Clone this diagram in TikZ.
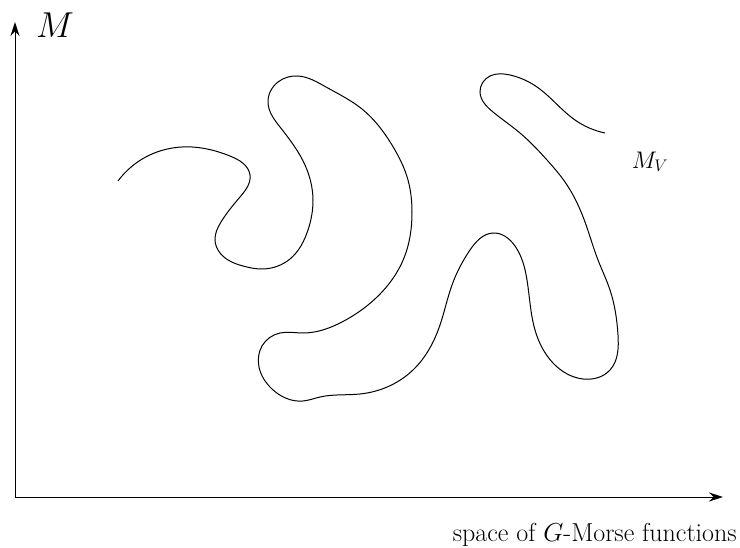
\documentclass[tikz,border=0pt]{standalone}
\usepackage{fix-cm}
\usetikzlibrary{arrows.meta,hobby}
\begin{document}
\begin{tikzpicture}[x=1pt,y=-1pt,
  axis/.style={line width=1pt,-{Stealth[length=14pt,width=9pt]}},
  curve/.style={line width=1pt}]
\useasboundingbox (0,0) rectangle (740,548);
\coordinate (O) at (15,497);
\coordinate (Y) at (15,22);
\coordinate (X) at (723,497);
\draw[axis] (O) -- (Y);
\draw[axis] (O) -- (X);
\node[anchor=west,inner sep=0pt,font=\fontsize{36}{42}\selectfont] (lM) at (36,25) {$M$};
\node[anchor=east,inner sep=0pt,font=\fontsize{26}{30}\selectfont] (lX) at (737,535) {space of $G$-Morse functions};
\node[inner sep=0pt,font=\fontsize{24}{28}\selectfont] (lMV) at (650,162) {$M_V$};
\draw[curve,use Hobby shortcut] (118,181) .. (157,152) .. (192,147) .. (230,156) .. (250,175) .. (240,197) .. (221,222) .. (215,240) .. (228,260) .. (243,266) .. (262,269) .. (290,259) .. (308,230) .. (313,200) .. (305,165) .. (280,127) .. (268,103) .. (278,82) .. (298,76) .. (326,87) .. (362,109) .. (392,145) .. (408,180) .. (412,212) .. (404,258) .. (376,298) .. (342,322) .. (303,333) .. (280,333) .. (262,346) .. (259,367) .. (272,389) .. (303,401) .. (320,397) .. (360,394) .. (413,370) .. (440,325) .. (452,285) .. (470,250) .. (493,233) .. (515,246) .. (527,280) .. (535,330) .. (553,363) .. (583,379) .. (610,370) .. (618,335) .. (610,290) .. (598,260) .. (585,222) .. (565,182) .. (547,160) .. (520,133) .. (493,112) .. (480,92) .. (490,76) .. (510,75) .. (537,87) .. (575,120) .. (605,133);
\end{tikzpicture}
\end{document}
